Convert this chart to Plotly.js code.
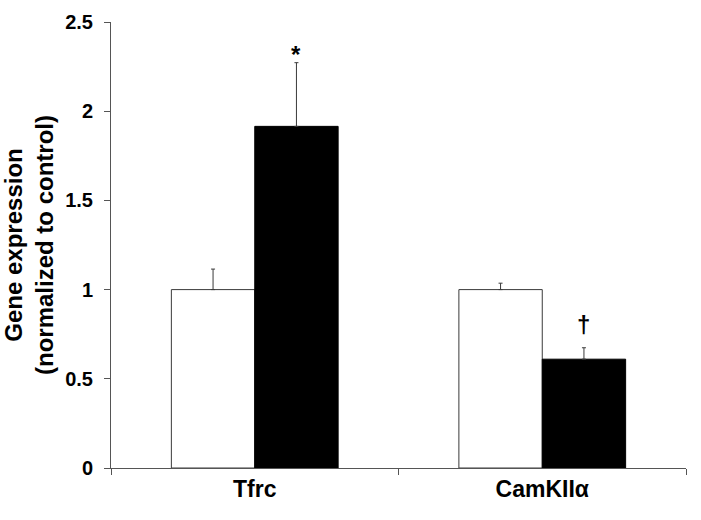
<!DOCTYPE html>
<html>
<head>
<meta charset="utf-8">
<script src="https://cdn.plot.ly/plotly-3.0.1.min.js"></script>
<style>html,body{margin:0;padding:0;background:#fff;}#chart{width:701px;height:520px;}</style>
</head>
<body>
<div id="chart"></div>
<script>
const categories = ["Tfrc", "CamKIIα"];
const controlValues = [1.0, 1.0];
const controlErrors = [0.115, 0.036];
const treatedValues = [1.915, 0.61];
const treatedErrors = [0.357, 0.064];
const significanceMarks = ["*", "†"];
const yTickValues = [0, 0.5, 1, 1.5, 2, 2.5];
const yTickLabels = ["0", "0.5", "1", "1.5", "2", "2.5"];

const FONT = "Liberation Sans, Arial, sans-serif";
const BARGAP = 0.42;
const barWidth = (1 - BARGAP) / 2;

const traces = [
  {
    type: "bar", name: "Control", x: categories, y: controlValues,
    marker: {color: "#ffffff", line: {color: "#3a3a3a", width: 1}},
    error_y: {type: "data", symmetric: false, array: controlErrors, arrayminus: controlValues.map(() => 0),
              color: "#3a3a3a", thickness: 1, width: 2},
    hoverinfo: "skip"
  },
  {
    type: "bar", name: "Treated", x: categories, y: treatedValues,
    marker: {color: "#000000", line: {color: "#000000", width: 1}},
    error_y: {type: "data", symmetric: false, array: treatedErrors, arrayminus: treatedValues.map(() => 0),
              color: "#3a3a3a", thickness: 1, width: 2},
    hoverinfo: "skip"
  }
];

const annotations = categories.map((c, i) => ({
  x: i + barWidth / 2, xref: "x",
  y: treatedValues[i] + treatedErrors[i], yref: "y",
  text: significanceMarks[i], showarrow: false,
  yanchor: "bottom", yshift: i === 0 ? -7 : 8,
  font: {family: FONT, size: 24, color: "#000", weight: "bold"}
}));

const layout = {
  width: 701, height: 520,
  margin: {l: 111, r: 15, t: 22, b: 52},
  paper_bgcolor: "#fff", plot_bgcolor: "#fff",
  showlegend: false,
  barmode: "group", bargap: BARGAP, bargroupgap: 0,
  xaxis: {
    type: "category",
    showline: true, linecolor: "#555", linewidth: 1,
    ticks: "outside", tickson: "boundaries", ticklen: 6, tickcolor: "#555", tickwidth: 1,
    showgrid: false, zeroline: false,
    tickfont: {family: FONT, size: 23, color: "#000", weight: "bold"},
    fixedrange: true
  },
  yaxis: {
    range: [0, 2.5],
    tickvals: yTickValues, ticktext: yTickLabels,
    showline: true, linecolor: "#555", linewidth: 1,
    ticks: "outside", ticklen: 6, tickcolor: "#555", tickwidth: 1,
    ticklabelstandoff: 7,
    showgrid: false, zeroline: false,
    tickfont: {family: FONT, size: 20, color: "#000", weight: "bold"},
    title: {text: "Gene expression<br>(normalized to control)", standoff: 12,
            font: {family: FONT, size: 24, color: "#000", weight: "bold"}},
    automargin: false,
    fixedrange: true
  },
  annotations: annotations
};

Plotly.newPlot("chart", traces, layout, {displayModeBar: false, staticPlot: true});
</script>
</body>
</html>
